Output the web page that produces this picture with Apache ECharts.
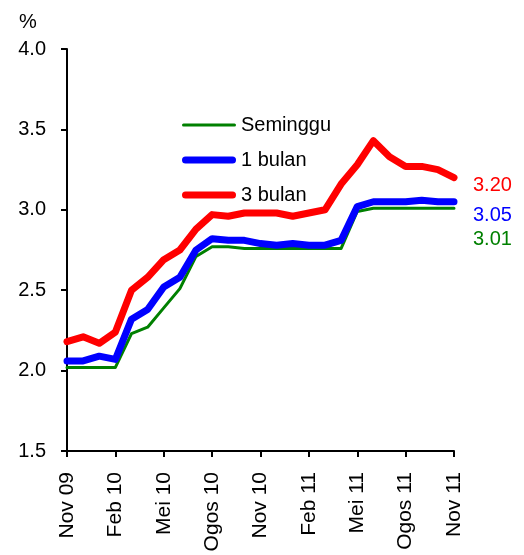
<!DOCTYPE html>
<html>
<head>
<meta charset="utf-8">
<script src="https://cdn.jsdelivr.net/npm/echarts@6/dist/echarts.min.js"></script>
<style>
html,body{margin:0;padding:0;background:#fff;}
#chart{width:524px;height:555px;}
</style>
</head>
<body>
<div id="chart"></div>
<script>
var categories = ['Nov 09','Dis 09','Jan 10','Feb 10','Mac 10','Apr 10','Mei 10','Jun 10','Jul 10','Ogos 10','Sep 10','Okt 10','Nov 10','Dis 10','Jan 11','Feb 11','Mac 11','Apr 11','Mei 11','Jun 11','Jul 11','Ogos 11','Sep 11','Okt 11','Nov 11'];
var seriesNames = ['Seminggu', '1 bulan', '3 bulan'];
var seminggu = [2.02,2.02,2.02,2.02,2.23,2.27,2.39,2.51,2.71,2.77,2.77,2.76,2.76,2.76,2.76,2.76,2.76,2.76,2.99,3.01,3.01,3.01,3.01,3.01,3.01];
var bulan1 = [2.06,2.06,2.09,2.07,2.32,2.38,2.52,2.58,2.75,2.82,2.81,2.81,2.79,2.78,2.79,2.78,2.78,2.81,3.02,3.05,3.05,3.05,3.06,3.05,3.05];
var bulan3 = [2.18,2.21,2.17,2.24,2.50,2.58,2.69,2.75,2.88,2.97,2.96,2.98,2.98,2.98,2.96,2.98,3.00,3.16,3.28,3.43,3.33,3.27,3.27,3.25,3.20];
var yTicks = [1.5, 2.0, 2.5, 3.0, 3.5, 4.0];

var FONT = '"Liberation Sans", Arial, sans-serif';
var chart = echarts.init(document.getElementById('chart'), null, {renderer: 'canvas'});

var thickIcon = 'path://M3.5,0 L50.5,0 A3.5,3.5 0 0 1 50.5,7 L3.5,7 A3.5,3.5 0 0 1 3.5,0 Z';
var thinIcon = 'path://M1.5,0 L52.5,0 A1.5,1.5 0 0 1 52.5,3 L1.5,3 A1.5,1.5 0 0 1 1.5,0 Z';

function mkSeries(name, data, color, width, off) {
  return {
    name: name,
    type: 'line',
    data: data,
    symbol: 'none',
    showSymbol: false,
    lineStyle: {color: color, width: width, cap: 'round', join: 'round'},
    itemStyle: {color: color},
    endLabel: {
      show: true,
      formatter: function (p) { return Number(p.value).toFixed(2); },
      color: color,
      fontSize: 20,
      fontFamily: FONT,
      distance: 5,
      offset: off
    }
  };
}

chart.setOption({
  animation: false,
  backgroundColor: '#ffffff',
  title: {
    text: '%',
    left: 14,
    top: 7,
    textStyle: {fontSize: 20, fontWeight: 'normal', color: '#000', fontFamily: FONT}
  },
  legend: {
    orient: 'vertical',
    left: 177,
    top: 110,
    itemWidth: 54,
    itemHeight: 7,
    itemGap: 15,
    symbolKeepAspect: true,
    data: [
      {name: seriesNames[0], icon: thinIcon},
      {name: seriesNames[1], icon: thickIcon},
      {name: seriesNames[2], icon: thickIcon}
    ],
    textStyle: {fontSize: 20, color: '#000', fontFamily: FONT, lineHeight: 20}
  },
  grid: {left: 67, right: 70, top: 49, bottom: 104, containLabel: false},
  xAxis: {
    type: 'category',
    data: categories,
    boundaryGap: false,
    axisLine: {lineStyle: {color: '#000', width: 2}},
    axisTick: {show: true, interval: 2, length: 6, lineStyle: {color: '#000', width: 2}},
    axisLabel: {interval: 2, rotate: 90, margin: 21, fontSize: 21, color: '#000', fontFamily: FONT},
    splitLine: {show: false}
  },
  yAxis: {
    type: 'value',
    min: yTicks[0],
    max: yTicks[yTicks.length - 1],
    interval: 0.5,
    axisLine: {show: true, lineStyle: {color: '#000', width: 2}},
    axisTick: {show: true, length: 6, lineStyle: {color: '#000', width: 2}},
    axisLabel: {margin: 21, fontSize: 20, color: '#000', fontFamily: FONT,
      formatter: function (v) { return v.toFixed(1); }},
    splitLine: {show: false}
  },
  series: [
    mkSeries(seriesNames[0], seminggu, '#008000', 3, [14, 31]),
    mkSeries(seriesNames[1], bulan1, '#0000ff', 7, [14, 14]),
    mkSeries(seriesNames[2], bulan3, '#ff0000', 7, [14, 8])
  ]
});
</script>
</body>
</html>
